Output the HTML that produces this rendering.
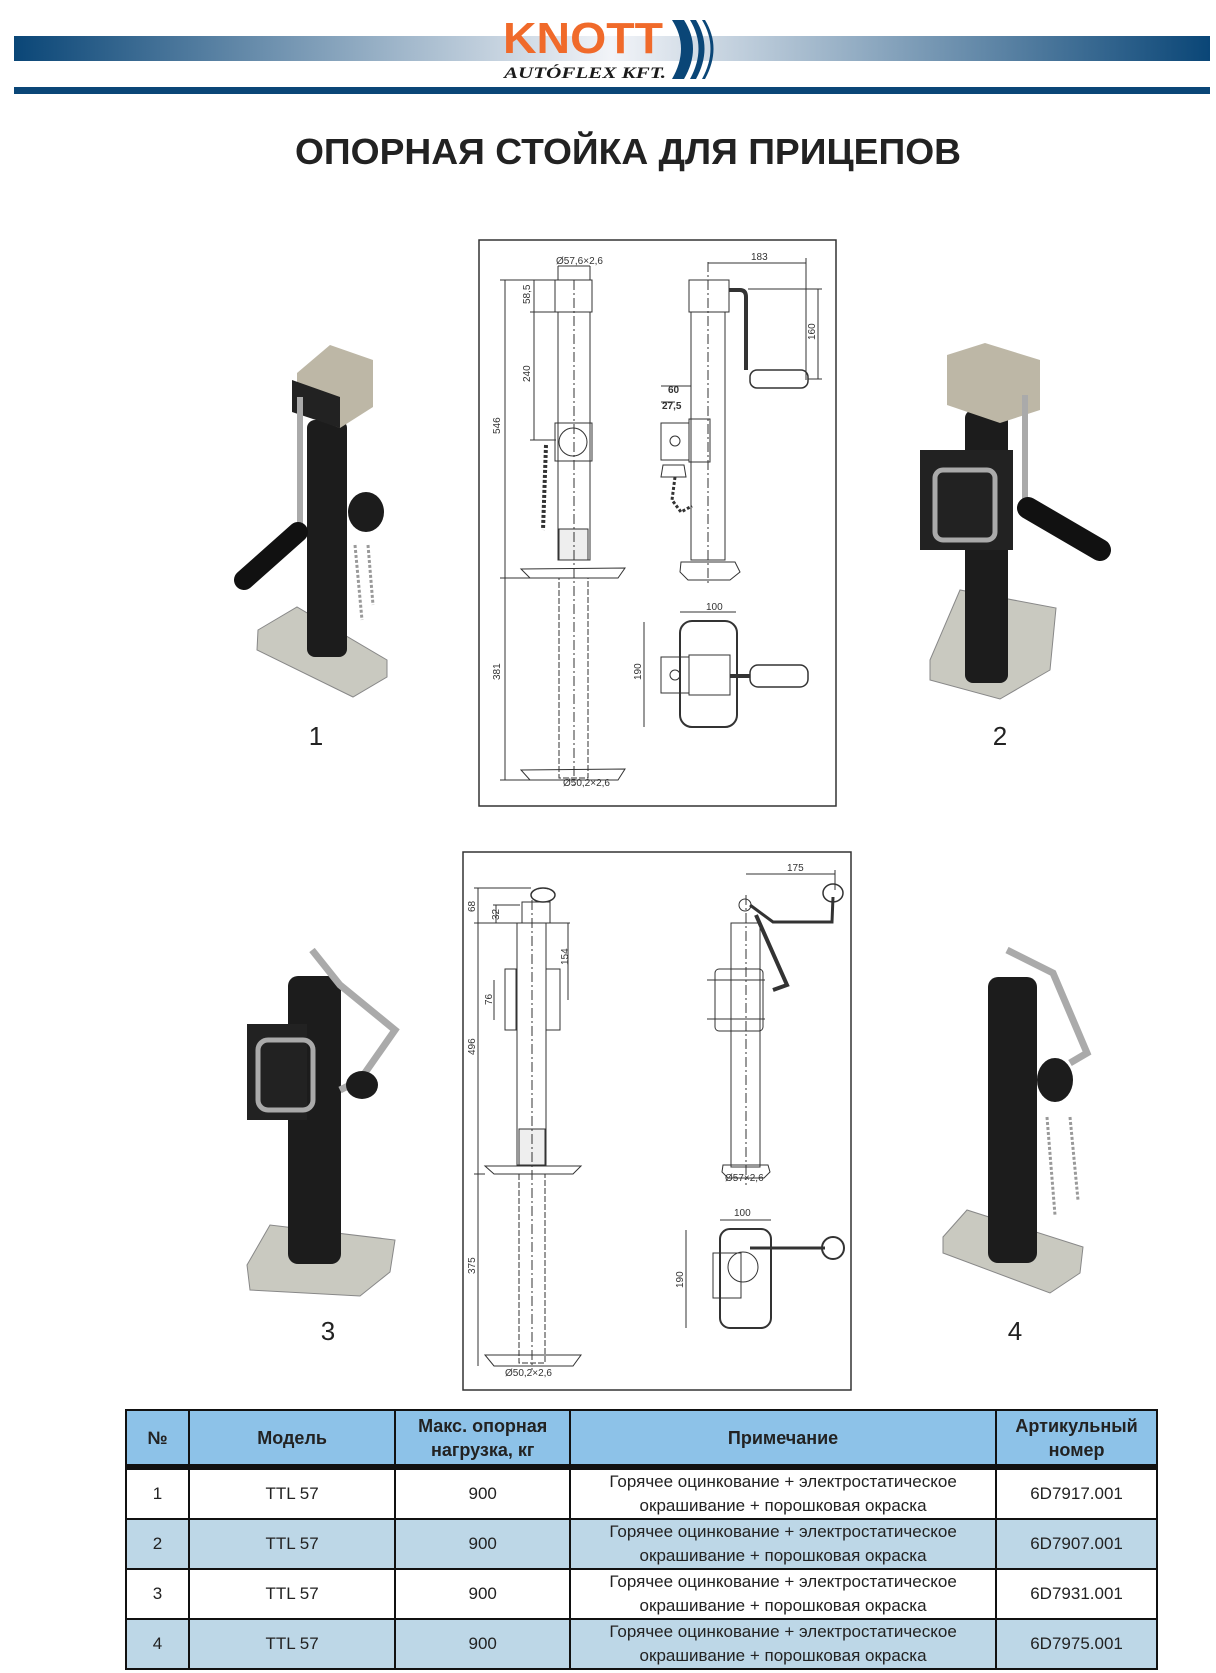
<!DOCTYPE html>
<html><head><meta charset="utf-8"><style>
body{margin:0;background:#fff;}
#p{position:relative;width:1216px;height:1673px;overflow:hidden;font-family:"Liberation Sans",sans-serif;}
table{position:absolute;left:125px;top:1409px;width:1033px;border-collapse:collapse;font-family:"Liberation Sans",sans-serif;}
td{border:2px solid #111;text-align:center;font-size:17px;color:#222;padding:0;line-height:24px;}
tr.h td{background:#8dc2e8;font-weight:bold;font-size:18px;height:53px;border-bottom:6px solid #111;}
tr.w td{background:#fff;height:48px;}
tr.b td{background:#bdd7e7;height:48px;}
</style></head><body><div id="p">
<svg width="1216" height="1673" style="position:absolute;left:0;top:0" font-family="Liberation Sans, sans-serif">
<defs>
<linearGradient id="g" x1="0" x2="1"><stop offset="0" stop-color="#0a4677"/><stop offset=".5" stop-color="#f2f4f8"/><stop offset="1" stop-color="#0a4677"/></linearGradient>
</defs>
<rect x="14" y="36" width="1196" height="25" fill="url(#g)"/>
<rect x="14" y="87" width="1196" height="7" fill="#0a4677"/>
<rect x="500" y="62" width="170" height="20" fill="#fff"/>
<text x="503" y="53" font-size="44" font-weight="bold" fill="#f06a2a" textLength="160" lengthAdjust="spacingAndGlyphs">KNOTT</text>
<text x="504" y="78" font-size="16" font-weight="bold" font-style="italic" fill="#1a1a1a" font-family="Liberation Serif, serif" textLength="162" lengthAdjust="spacingAndGlyphs">AUTÓFLEX KFT.</text>
<path d="M672 20 Q690 48 672 79 L684 79 Q702 48 684 20Z" fill="#0a4677"/>
<path d="M690 20 Q707 48 690 79 L696 79 Q713 48 696 20Z" fill="#0a4677"/>
<path d="M702 20 Q719 48 702 79 L705 79 Q722 48 705 20Z" fill="#0a4677"/>
<text x="628" y="164" font-size="36" font-weight="bold" fill="#222" text-anchor="middle" textLength="666" lengthAdjust="spacingAndGlyphs">ОПОРНАЯ СТОЙКА ДЛЯ ПРИЦЕПОВ</text>

<rect x="479" y="240" width="357" height="566" fill="#fff" stroke="#333" stroke-width="1.5"/>
<g stroke="#333" stroke-width="1" fill="none">
<rect x="555" y="280" width="37" height="32"/>
<rect x="558" y="312" width="32" height="248"/>
<rect x="559" y="529" width="29" height="31" fill="#eee"/>
<rect x="559" y="578" width="29" height="200" stroke-dasharray="6 2"/>
<path d="M521 569 L625 568 L618 578 L530 578 Z"/>
<path d="M521 770 L625 769 L618 780 L530 780 Z"/>
<rect x="555" y="423" width="37" height="38"/>
<circle cx="573" cy="442" r="14"/>
<line x1="574" y1="280" x2="574" y2="785" stroke-dasharray="10 3 2 3"/>
<path d="M546 445 L543 530" stroke-width="4" stroke="#333" stroke-dasharray="3 2"/>
<line x1="505" y1="280" x2="505" y2="780"/><line x1="500" y1="280" x2="555" y2="280"/><line x1="500" y1="578" x2="555" y2="578"/><line x1="500" y1="780" x2="560" y2="780"/>
<line x1="534" y1="280" x2="534" y2="440"/><line x1="530" y1="312" x2="558" y2="312"/><line x1="530" y1="440" x2="556" y2="440"/>
<line x1="558" y1="266" x2="590" y2="266"/><line x1="558" y1="266" x2="558" y2="280"/><line x1="590" y1="266" x2="590" y2="280"/>
<rect x="689" y="280" width="40" height="32"/>
<rect x="691" y="312" width="34" height="248"/>
<path d="M681 562 L735 562 L740 572 L730 580 L688 580 L680 572Z"/>
<line x1="708" y1="262" x2="708" y2="585" stroke-dasharray="10 3 2 3"/>
<path d="M729 290 L740 290 Q746 290 746 297 L746 370" stroke-width="4"/>
<rect x="750" y="370" width="58" height="18" rx="7" stroke-width="1.5"/>
<line x1="708" y1="263" x2="806" y2="263"/><line x1="806" y1="258" x2="806" y2="380"/>
<line x1="818" y1="289" x2="818" y2="379"/><line x1="748" y1="289" x2="822" y2="289"/><line x1="808" y1="379" x2="822" y2="379"/>
<rect x="661" y="423" width="28" height="37"/><rect x="689" y="419" width="21" height="43"/>
<circle cx="675" cy="441" r="5"/>
<path d="M663 465 L684 465 L686 477 L661 477Z"/>
<path d="M675 477 L672 500 L681 512 L692 506" stroke-width="3" stroke-dasharray="3 2"/>
<line x1="661" y1="386" x2="691" y2="386"/><line x1="661" y1="402" x2="675" y2="402"/>
<rect x="680" y="621" width="57" height="106" rx="12" stroke-width="2"/>
<rect x="661" y="657" width="28" height="36"/><circle cx="675" cy="675" r="5"/>
<rect x="689" y="655" width="41" height="40"/>
<line x1="730" y1="676" x2="750" y2="676" stroke-width="4"/>
<rect x="750" y="665" width="58" height="22" rx="8" stroke-width="1.5"/>
<line x1="680" y1="612" x2="736" y2="612"/><line x1="644" y1="622" x2="644" y2="727"/>
</g>
<g font-size="10" fill="#333">
<text x="556" y="264">Ø57,6×2,6</text>
<text x="563" y="786">Ø50,2×2,6</text>
<text transform="translate(500,434) rotate(-90)">546</text>
<text transform="translate(500,680) rotate(-90)">381</text>
<text transform="translate(530,304) rotate(-90)">58,5</text>
<text transform="translate(530,382) rotate(-90)">240</text>
<text x="751" y="260">183</text>
<text transform="translate(815,340) rotate(-90)">160</text>
<text x="668" y="393" font-weight="bold">60</text>
<text x="662" y="409" font-weight="bold">27,5</text>
<text x="706" y="610">100</text>
<text transform="translate(641,680) rotate(-90)">190</text>
</g>

<rect x="463" y="852" width="388" height="538" fill="#fff" stroke="#333" stroke-width="1.5"/>
<g stroke="#333" stroke-width="1" fill="none">
<rect x="517" y="923" width="29" height="242"/>
<rect x="519" y="1129" width="26" height="36" fill="#eee"/>
<rect x="519" y="1174" width="26" height="189" stroke-dasharray="6 2"/>
<path d="M485 1166 L581 1166 L573 1174 L494 1174Z"/>
<path d="M485 1355 L581 1355 L573 1366 L494 1366Z"/>
<ellipse cx="543" cy="895" rx="12" ry="7" stroke-width="1.5"/>
<rect x="522" y="902" width="28" height="21"/>
<rect x="505" y="969" width="11" height="61"/><rect x="546" y="969" width="14" height="61"/>
<line x1="532" y1="900" x2="532" y2="1370" stroke-dasharray="10 3 2 3"/>
<line x1="478" y1="888" x2="478" y2="1366"/><line x1="474" y1="888" x2="531" y2="888"/><line x1="474" y1="923" x2="570" y2="923"/><line x1="474" y1="1174" x2="485" y2="1174"/>
<line x1="496" y1="905" x2="496" y2="923"/><line x1="493" y1="905" x2="520" y2="905"/>
<line x1="494" y1="980" x2="494" y2="1020"/><line x1="568" y1="923" x2="568" y2="1000"/>
<rect x="731" y="923" width="29" height="244"/>
<path d="M723 1165 L768 1165 L770 1172 L764 1178 L728 1178 L722 1172Z"/>
<line x1="746" y1="895" x2="746" y2="1185" stroke-dasharray="10 3 2 3"/>
<circle cx="745" cy="905" r="6"/>
<path d="M750 905 L773 922 L832 922 L833 897" stroke-width="3"/>
<ellipse cx="833" cy="893" rx="10" ry="9" stroke-width="1.5"/>
<path d="M756 915 L787 985 L773 990" stroke-width="4"/>
<rect x="715" y="969" width="48" height="62" rx="4"/>
<line x1="707" y1="980" x2="765" y2="980"/><line x1="707" y1="1019" x2="765" y2="1019"/>
<line x1="746" y1="874" x2="835" y2="874"/><line x1="835" y1="870" x2="835" y2="890"/>
<rect x="720" y="1229" width="51" height="99" rx="10" stroke-width="2"/>
<rect x="713" y="1253" width="28" height="45"/>
<circle cx="743" cy="1267" r="15"/>
<line x1="750" y1="1248" x2="825" y2="1248" stroke-width="3"/>
<circle cx="833" cy="1248" r="11" stroke-width="2"/>
<line x1="720" y1="1220" x2="771" y2="1220"/><line x1="686" y1="1230" x2="686" y2="1328"/>
</g>
<g font-size="10" fill="#333">
<text transform="translate(475,912) rotate(-90)">68</text>
<text transform="translate(499,920) rotate(-90)">32</text>
<text transform="translate(492,1005) rotate(-90)">76</text>
<text transform="translate(568,965) rotate(-90)">154</text>
<text transform="translate(475,1055) rotate(-90)">496</text>
<text transform="translate(475,1274) rotate(-90)">375</text>
<text x="505" y="1376">Ø50,2×2,6</text>
<text x="787" y="871">175</text>
<text x="725" y="1181">Ø57×2,6</text>
<text x="734" y="1216">100</text>
<text transform="translate(683,1288) rotate(-90)">190</text>
</g>

<g>
<path d="M258 630 L297 607 L387 660 L387 677 L353 697 L257 650Z" fill="#c9c9c0" stroke="#888"/>
<rect x="307" y="420" width="40" height="237" rx="8" fill="#1c1c1c"/>
<path d="M297 373 L330 345 L373 360 L373 407 L340 428 L297 412Z" fill="#bdb7a6"/>
<path d="M292 380 L340 397 L340 428 L292 412Z" fill="#222"/>
<path d="M300 397 L300 530" stroke="#aaa" stroke-width="6"/>
<path d="M298 532 L244 580" stroke="#111" stroke-width="20" stroke-linecap="round"/>
<ellipse cx="366" cy="512" rx="18" ry="20" fill="#1c1c1c"/>
<path d="M355 545 L362 620 M368 545 L373 605" stroke="#999" stroke-width="3" stroke-dasharray="3 2"/>
<text x="316" y="745" font-size="26" fill="#222" text-anchor="middle">1</text>
</g>
<g>
<path d="M930 660 L960 590 L1056 608 L1050 670 L1000 699 L930 680Z" fill="#c9c9c0" stroke="#888"/>
<rect x="965" y="410" width="43" height="273" rx="8" fill="#1c1c1c"/>
<path d="M947 355 L985 343 L1040 360 L1040 410 L1000 423 L947 405Z" fill="#bdb7a6"/>
<rect x="920" y="450" width="93" height="100" fill="#222"/>
<rect x="935" y="470" width="60" height="70" fill="none" stroke="#aaa" stroke-width="5" rx="8"/>
<path d="M1025 395 L1025 500" stroke="#aaa" stroke-width="6"/>
<path d="M1028 508 L1100 550" stroke="#111" stroke-width="22" stroke-linecap="round"/>
<text x="1000" y="745" font-size="26" fill="#222" text-anchor="middle">2</text>
</g>
<g>
<path d="M247 1265 L270 1225 L395 1240 L390 1272 L360 1296 L250 1290Z" fill="#c9c9c0" stroke="#888"/>
<rect x="288" y="976" width="53" height="288" rx="10" fill="#1c1c1c"/>
<path d="M312 950 L340 985 L395 1030 L360 1080 L340 1090" stroke="#aaa" stroke-width="7" fill="none"/>
<rect x="247" y="1024" width="60" height="96" fill="#222"/>
<rect x="258" y="1040" width="55" height="70" fill="none" stroke="#aaa" stroke-width="5" rx="10"/>
<ellipse cx="362" cy="1085" rx="16" ry="14" fill="#1c1c1c"/>
<text x="328" y="1340" font-size="26" fill="#222" text-anchor="middle">3</text>
</g>
<g>
<path d="M943 1237 L967 1210 L1083 1247 L1080 1273 L1050 1293 L943 1253Z" fill="#c9c9c0" stroke="#888"/>
<rect x="988" y="977" width="49" height="286" rx="10" fill="#1c1c1c"/>
<path d="M1007 950 L1053 973 L1087 1053 L1070 1063" stroke="#aaa" stroke-width="7" fill="none"/>
<ellipse cx="1055" cy="1080" rx="18" ry="22" fill="#1c1c1c"/>
<path d="M1047 1117 L1055 1215 M1070 1117 L1078 1200" stroke="#999" stroke-width="3" stroke-dasharray="3 2"/>
<text x="1015" y="1340" font-size="26" fill="#222" text-anchor="middle">4</text>
</g>
</svg>

<table>
<colgroup><col style="width:63px"><col style="width:207px"><col style="width:175px"><col style="width:427px"><col style="width:161px"></colgroup>
<tr class="h"><td>№</td><td>Модель</td><td>Макс. опорная нагрузка, кг</td><td>Примечание</td><td>Артикульный номер</td></tr>
<tr class="w"><td>1</td><td>TTL 57</td><td>900</td><td>Горячее оцинкование + электростатическое окрашивание + порошковая окраска</td><td>6D7917.001</td></tr>
<tr class="b"><td>2</td><td>TTL 57</td><td>900</td><td>Горячее оцинкование + электростатическое окрашивание + порошковая окраска</td><td>6D7907.001</td></tr>
<tr class="w"><td>3</td><td>TTL 57</td><td>900</td><td>Горячее оцинкование + электростатическое окрашивание + порошковая окраска</td><td>6D7931.001</td></tr>
<tr class="b"><td>4</td><td>TTL 57</td><td>900</td><td>Горячее оцинкование + электростатическое окрашивание + порошковая окраска</td><td>6D7975.001</td></tr>
</table>
</div></body></html>
